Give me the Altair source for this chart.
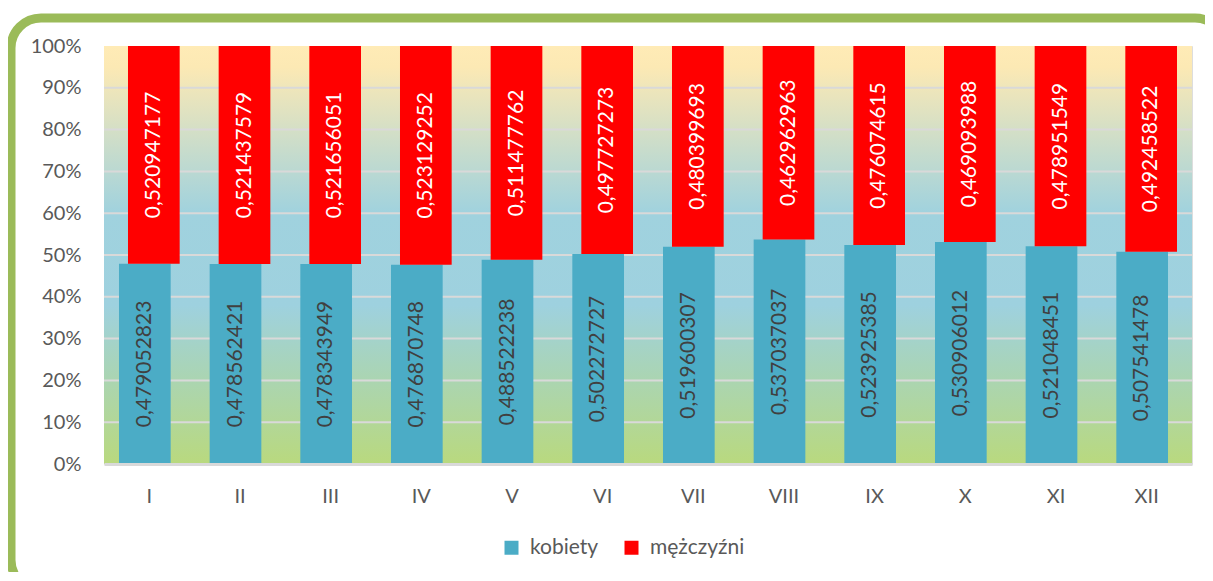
import altair as alt
import pandas as pd

months = ["I", "II", "III", "IV", "V", "VI", "VII", "VIII", "IX", "X", "XI", "XII"]
kobiety = [0.479052823, 0.478562421, 0.478343949, 0.476870748, 0.488522238, 0.502272727,
           0.519600307, 0.537037037, 0.523925385, 0.530906012, 0.521048451, 0.507541478]
mezczyzni = [0.520947177, 0.521437579, 0.521656051, 0.523129252, 0.511477762, 0.497727273,
             0.480399693, 0.462962963, 0.476074615, 0.469093988, 0.478951549, 0.492458522]
series_names = ["kobiety", "mężczyźni"]
series_colors = ["#4BACC6", "#FF0000"]
grid_values = [0.1, 0.2, 0.3, 0.4, 0.5, 0.6, 0.7, 0.8, 0.9]

W, H = 1088, 418
FONT = "Lato"

rows = []
for mo, k, m in zip(months, kobiety, mezczyzni):
    rows.append({"month": mo, "series": "kobiety", "start": 0.0, "end": k,
                 "mid": k / 2, "label": str(k).replace(".", ",")})
    rows.append({"month": mo, "series": "mężczyźni", "start": k, "end": k + m,
                 "mid": k + m / 2, "label": str(m).replace(".", ",")})
df = pd.DataFrame(rows)

xs = alt.X("month:N", sort=months, title=None,
           scale=alt.Scale(paddingInner=0.43, paddingOuter=0.215),
           axis=alt.Axis(labelAngle=0, labelFont=FONT, labelFontSize=20, labelColor="#595959",
                         labelPadding=22, ticks=False, tickSize=0, domainColor="#D9D9D9",
                         domainWidth=3, grid=False, zindex=1))
ys = alt.Y("start:Q", title=None, scale=alt.Scale(domain=[0, 1], nice=False),
           axis=alt.Axis(values=[0, 0.1, 0.2, 0.3, 0.4, 0.5, 0.6, 0.7, 0.8, 0.9, 1.0],
                         format=".0%", labelFont=FONT, labelFontSize=20, labelColor="#595959",
                         labelPadding=23, ticks=False, tickSize=0, domain=False, grid=False))
color = alt.Color("series:N", title=None,
                  scale=alt.Scale(domain=series_names, range=series_colors),
                  legend=alt.Legend(orient="none", legendX=397, legendY=491, direction="horizontal",
                                    symbolType="square", symbolSize=196, symbolStrokeWidth=0,
                                    labelFont=FONT, labelFontSize=21, labelColor="#595959",
                                    labelOffset=8, columnPadding=22))

bg = alt.Chart(pd.DataFrame({"a": [0]})).mark_rect(
    fill=alt.Gradient(gradient="linear",
                      stops=[alt.GradientStop(color="#FFEBB6", offset=0),
                             alt.GradientStop(color="#FCE9B4", offset=0.05),
                             alt.GradientStop(color="#A0D2DE", offset=0.4),
                             alt.GradientStop(color="#9ED1DF", offset=0.62),
                             alt.GradientStop(color="#B9D97E", offset=1)],
                      x1=0, x2=0, y1=0, y2=1)
).encode(x=alt.value(0), x2=alt.value(W), y=alt.value(0), y2=alt.value(H))

grid = alt.Chart(pd.DataFrame({"g": grid_values})).mark_rule(color="#D9D9D9", strokeWidth=2).encode(
    y=alt.Y("g:Q", scale=alt.Scale(domain=[0, 1], nice=False)),
    x=alt.value(0), x2=alt.value(W))

base = alt.Chart(df)
blue = base.transform_filter(alt.datum.series == "kobiety").mark_bar(xOffset=-4.5).encode(
    x=xs, y=ys, y2="end:Q", color=color)
red = base.transform_filter(alt.datum.series == "mężczyźni").mark_bar(xOffset=4.5).encode(
    x=xs, y=ys, y2="end:Q", color=color)

blue_txt = base.transform_filter(alt.datum.series == "kobiety").mark_text(
    angle=270, xOffset=-4.5, font=FONT, fontSize=21, color="#404040",
    align="center", baseline="middle").encode(
    x=alt.X("month:N", sort=months), y=alt.Y("mid:Q"), text="label:N")
red_txt = base.transform_filter(alt.datum.series == "mężczyźni").mark_text(
    angle=270, xOffset=4.5, font=FONT, fontSize=21, color="#FFFFFF",
    align="center", baseline="middle").encode(
    x=alt.X("month:N", sort=months), y=alt.Y("mid:Q"), text="label:N")

frame = alt.Chart(pd.DataFrame({"a": [0]})).mark_rect(
    fillOpacity=0, stroke="#9BBB59", strokeWidth=9, cornerRadius=30
).encode(x=alt.value(-93), x2=alt.value(1121), y=alt.value(-28), y2=alt.value(544))

chart = alt.layer(bg, grid, blue, red, blue_txt, red_txt, frame).properties(
    width=W, height=H,
    padding={"left": 96, "top": 38, "right": 13, "bottom": 108},
    autosize=alt.AutoSizeParams(type="none")
).configure_view(stroke="#A6B7DE", strokeWidth=2).configure(background="white")

chart.save("out.html", embed_options={"renderer": "svg", "actions": False})
